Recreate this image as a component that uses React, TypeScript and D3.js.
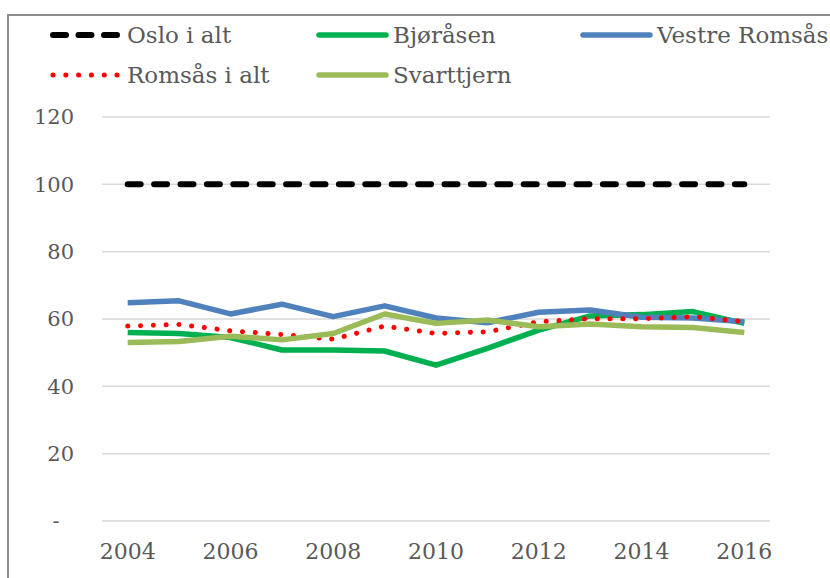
import React, { useEffect, useRef } from 'react';
import * as d3 from 'd3';

// Values (index, Oslo = 100)
const years = ['2004', '2005', '2006', '2007', '2008', '2009', '2010', '2011', '2012', '2013', '2014', '2015', '2016'];
const yTicks = [0, 20, 40, 60, 80, 100, 120];
const xTickLabels = ['2004', '2006', '2008', '2010', '2012', '2014', '2016'];

const osloIAlt = [100, 100, 100, 100, 100, 100, 100, 100, 100, 100, 100, 100, 100];
const bjorasen = [56.0, 55.7, 54.5, 50.8, 50.8, 50.5, 46.3, 51.3, 56.7, 60.9, 61.3, 62.2, 58.7];
const vestreRomsas = [64.8, 65.4, 61.5, 64.4, 60.7, 63.9, 60.3, 58.9, 62.0, 62.7, 60.5, 60.3, 59.2];
const romsasIAlt = [57.9, 58.4, 56.5, 55.4, 54.0, 57.9, 55.7, 56.2, 59.2, 60.1, 60.1, 60.7, 59.2];
const svarttjern = [53.0, 53.3, 54.9, 53.8, 55.7, 61.5, 58.7, 59.7, 57.7, 58.5, 57.7, 57.5, 56.0];

interface Series {
  name: string;
  values: number[];
  color: string;
  dash: string | null;
  legendDash: string | null;
  width: number;
}

const series: Series[] = [
  { name: 'Oslo i alt', values: osloIAlt, color: '#000000', dash: '13 13.4', legendDash: '13 12.5', width: 6 },
  { name: 'Bjøråsen', values: bjorasen, color: '#00b050', dash: null, legendDash: null, width: 5.5 },
  { name: 'Vestre Romsås', values: vestreRomsas, color: '#4f81bd', dash: null, legendDash: null, width: 5.5 },
  { name: 'Romsås i alt', values: romsasIAlt, color: '#ff0000', dash: '0.1 12.7', legendDash: '0.1 12.7', width: 5 },
  { name: 'Svarttjern', values: svarttjern, color: '#9bbb59', dash: null, legendDash: null, width: 5.5 },
];

// legend slots: x of line start, row
const legendSlots = [
  { x: 50, row: 0 },
  { x: 316, row: 0 },
  { x: 580, row: 0 },
  { x: 50, row: 1 },
  { x: 316, row: 1 },
];

const FONT = '"DejaVu Serif", serif';

const App: React.FC = () => {
  const svgRef = useRef<SVGSVGElement | null>(null);

  useEffect(() => {
    if (!svgRef.current) return;
    const svg = d3.select(svgRef.current);
    svg.selectAll('*').remove();

    const width = 830;
    const height = 578;
    svg.attr('width', width).attr('height', height);

    svg.append('rect').attr('width', width).attr('height', height).attr('fill', '#fff');

    // chart border (runs off the right and bottom edges)
    svg
      .append('rect')
      .attr('x', 8)
      .attr('y', 15)
      .attr('width', 900)
      .attr('height', 700)
      .attr('fill', 'none')
      .attr('stroke', '#8c8c8c')
      .attr('stroke-width', 2);

    const x = d3.scaleBand<string>().domain(years).range([102, 770]);
    const xc = (yr: string) => (x(yr) as number) + x.bandwidth() / 2;
    const y = d3.scaleLinear().domain([0, 120]).range([521, 117]);

    // gridlines
    svg
      .append('g')
      .selectAll('line')
      .data(yTicks)
      .join('line')
      .attr('x1', 102)
      .attr('x2', 770)
      .attr('y1', (d) => y(d))
      .attr('y2', (d) => y(d))
      .attr('stroke', '#d9d9d9')
      .attr('stroke-width', 1.5);

    // y axis labels ("-" for zero, as in the accounting format)
    svg
      .append('g')
      .selectAll('text')
      .data(yTicks)
      .join('text')
      .attr('x', (d) => (d === 0 ? 56 : 74))
      .attr('y', (d) => y(d))
      .attr('dy', '0.35em')
      .attr('text-anchor', (d) => (d === 0 ? 'middle' : 'end'))
      .attr('font-family', FONT)
      .attr('font-size', 21)
      .attr('fill', '#595959')
      .text((d) => (d === 0 ? '-' : String(d)));

    // x axis labels
    svg
      .append('g')
      .selectAll('text')
      .data(xTickLabels)
      .join('text')
      .attr('x', (d) => xc(d))
      .attr('y', 559)
      .attr('text-anchor', 'middle')
      .attr('font-family', FONT)
      .attr('font-size', 22)
      .attr('fill', '#595959')
      .text((d) => d);

    const line = d3
      .line<number>()
      .x((_, i) => xc(years[i]))
      .y((d) => y(d));

    const lines = svg.append('g').attr('fill', 'none');
    series.forEach((s) => {
      const p = lines
        .append('path')
        .datum(s.values)
        .attr('d', line)
        .attr('stroke', s.color)
        .attr('stroke-width', s.width)
        .attr('stroke-linejoin', 'round')
        .attr('stroke-linecap', s.dash ? 'round' : 'butt');
      if (s.dash) p.attr('stroke-dasharray', s.dash);
    });

    // legend
    const legend = svg.append('g');
    series.forEach((s, i) => {
      const slot = legendSlots[i];
      const ly = 35 + slot.row * 40;
      const l = legend
        .append('line')
        .attr('x1', slot.x + 3)
        .attr('x2', slot.x + 70)
        .attr('y1', ly)
        .attr('y2', ly)
        .attr('stroke', s.color)
        .attr('stroke-width', s.width)
        .attr('stroke-linecap', 'round');
      if (s.legendDash) l.attr('stroke-dasharray', s.legendDash);
      legend
        .append('text')
        .attr('x', slot.x + 77)
        .attr('y', ly)
        .attr('dy', '0.35em')
        .attr('font-family', FONT)
        .attr('font-size', 23)
        .attr('fill', '#595959')
        .text(s.name);
    });
  }, []);

  return <svg ref={svgRef} style={{ position: 'fixed', left: 0, top: 0, display: 'block' }} />;
};

export default App;
